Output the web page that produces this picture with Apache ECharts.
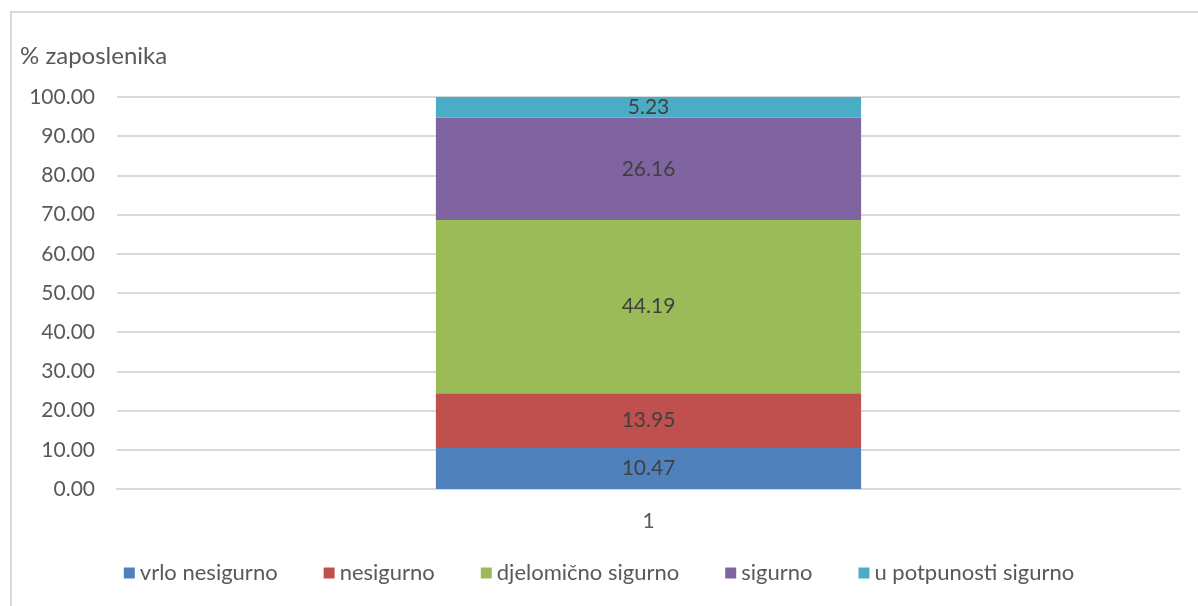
<!DOCTYPE html>
<html>
<head>
<meta charset="utf-8">
<script src="https://cdn.jsdelivr.net/npm/echarts@6/dist/echarts.min.js"></script>
<style>
  body { margin: 0; background: #fff; }
  #wrap { position: relative; width: 1198px; height: 606px; overflow: hidden; }
  #frame {
    position: absolute; left: 10px; top: 11px; width: 1200px; height: 620px;
    border: 2px solid #d9d9d9; box-sizing: border-box; pointer-events: none;
  }
  #chart { width: 1198px; height: 606px; }
</style>
</head>
<body>
<div id="wrap">
  <div id="chart"></div>
  <div id="frame"></div>
</div>
<script>
  // podaci
  var categories = ['1'];
  var seriesNames = ['vrlo nesigurno', 'nesigurno', 'djelomično sigurno', 'sigurno', 'u potpunosti sigurno'];
  var vrloNesigurno = [10.47];
  var nesigurno = [13.95];
  var djelomicnoSigurno = [44.19];
  var sigurno = [26.16];
  var uPotpunostiSigurno = [5.23];
  var colors = ['#4f81bd', '#c0504d', '#9bbb59', '#8064a2', '#4bacc6'];

  var values = [vrloNesigurno, nesigurno, djelomicnoSigurno, sigurno, uPotpunostiSigurno];
  var font = 'Lato, "Open Sans", sans-serif';

  var chart = echarts.init(document.getElementById('chart'));
  chart.setOption({
    animation: false,
    textStyle: { fontFamily: font },
    color: colors,
    title: {
      text: '% zaposlenika',
      left: 15,
      top: 39,
      textStyle: { fontSize: 24, fontWeight: 'normal', color: '#595959', fontFamily: font }
    },
    grid: { left: 117, right: 18, top: 97, bottom: 117 },
    legend: {
      bottom: 17,
      left: 'center',
      icon: 'rect',
      itemWidth: 11,
      itemHeight: 11,
      itemGap: 46,
      textStyle: { fontSize: 22, color: '#595959', fontFamily: font },
      data: seriesNames
    },
    xAxis: {
      type: 'category',
      data: categories,
      axisLine: { show: true, lineStyle: { color: '#d9d9d9', width: 2 } },
      axisTick: { show: false },
      axisLabel: { fontSize: 21, color: '#595959', margin: 22 }
    },
    yAxis: {
      type: 'value',
      min: 0,
      max: 100,
      interval: 10,
      axisLine: { show: false },
      axisTick: { show: false },
      splitLine: { lineStyle: { color: '#d9d9d9', width: 2 } },
      axisLabel: {
        fontSize: 21,
        color: '#595959',
        margin: 22,
        formatter: function (v) { return v.toFixed(2); }
      }
    },
    series: seriesNames.map(function (name, i) {
      return {
        name: name,
        type: 'bar',
        stack: 'ukupno',
        barWidth: '40%',
        data: values[i],
        label: {
          show: true,
          position: 'inside',
          fontSize: 21,
          color: '#404040',
          formatter: function (p) { return p.value.toFixed(2); }
        }
      };
    })
  });
</script>
</body>
</html>
